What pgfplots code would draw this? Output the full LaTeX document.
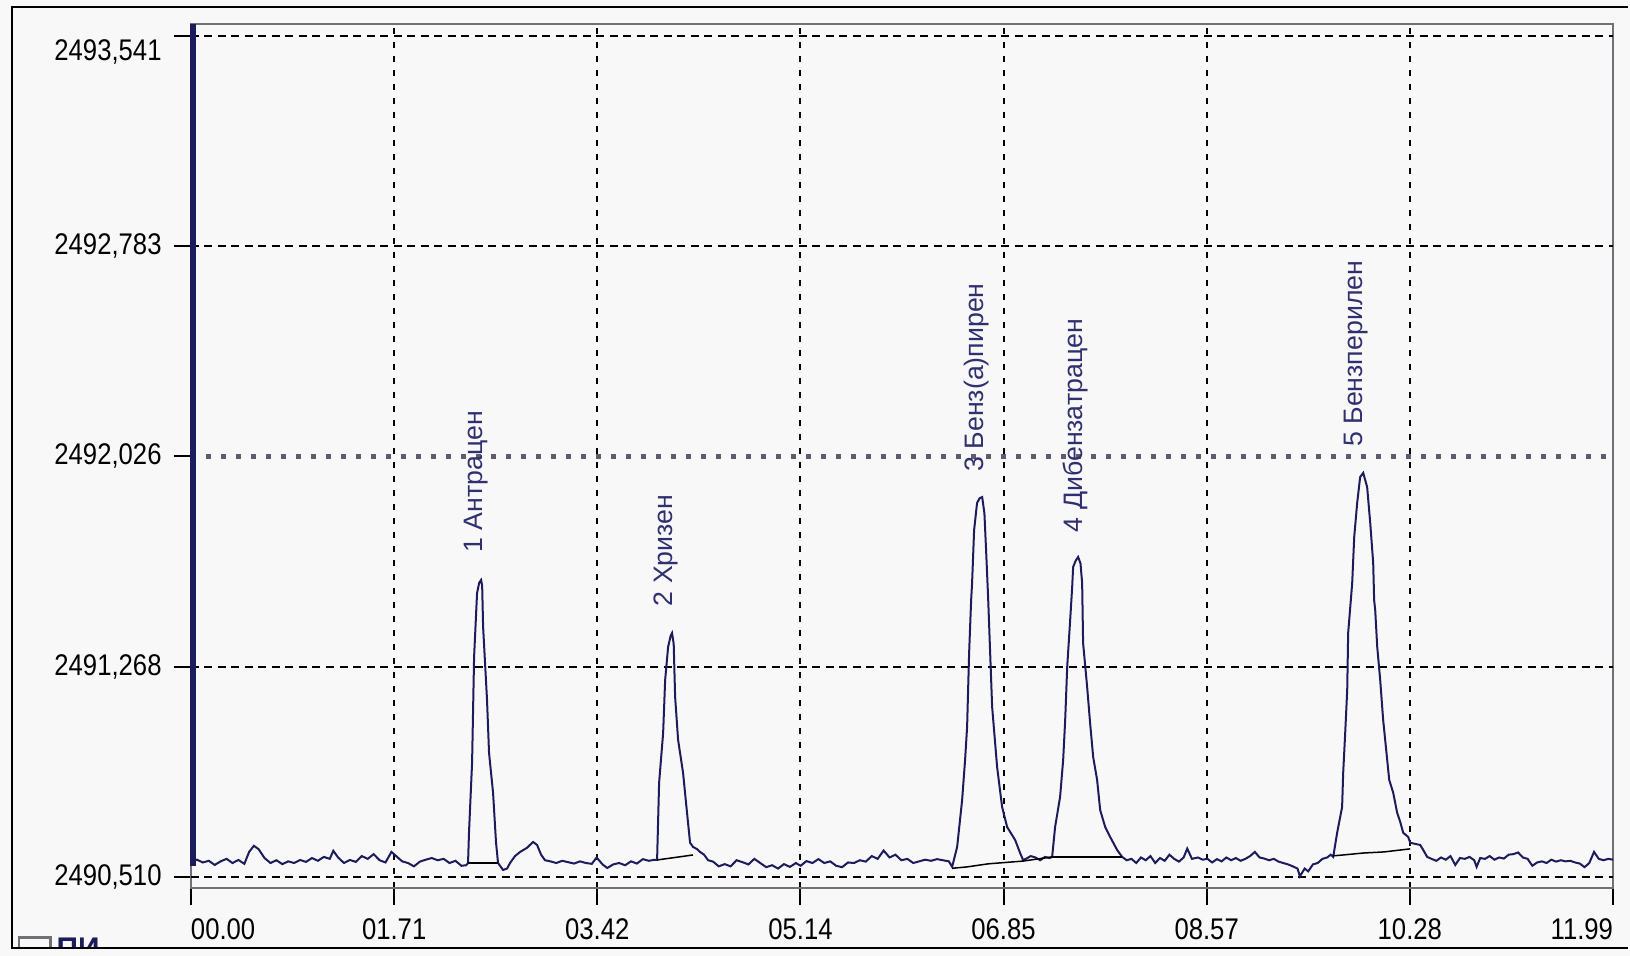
\documentclass[border=0pt]{standalone}
\usepackage{fontspec}
\setmainfont{Liberation Sans}
\newfontfamily\tickfont{Liberation Sans}[FakeStretch=0.86]
\newfontfamily\lblfont{Liberation Sans}
\usepackage{pgfplots}
\usepackage{pgfplotstable}
\pgfplotsset{compat=1.18}
\definecolor{bgc}{RGB}{248,248,248}
\definecolor{sig}{RGB}{28,28,92}
\definecolor{lbl}{RGB}{48,48,112}
\definecolor{frm}{RGB}{112,112,118}
\definecolor{gdot}{RGB}{92,92,108}

\pgfplotstableread{
t v
0.000 2490.566
0.050 2490.572
0.100 2490.562
0.150 2490.568
0.200 2490.553
0.250 2490.566
0.300 2490.575
0.350 2490.560
0.400 2490.571
0.450 2490.557
0.490 2490.600
0.530 2490.622
0.570 2490.610
0.620 2490.578
0.670 2490.560
0.720 2490.570
0.770 2490.556
0.820 2490.566
0.870 2490.560
0.920 2490.571
0.970 2490.564
1.020 2490.578
1.070 2490.568
1.120 2490.582
1.170 2490.575
1.200 2490.604
1.240 2490.580
1.290 2490.560
1.340 2490.571
1.390 2490.564
1.440 2490.585
1.490 2490.575
1.540 2490.592
1.590 2490.570
1.640 2490.562
1.690 2490.600
1.730 2490.585
1.780 2490.566
1.830 2490.560
1.880 2490.548
1.930 2490.565
1.980 2490.572
2.030 2490.578
2.080 2490.570
2.130 2490.575
2.180 2490.560
2.230 2490.568
2.280 2490.550
2.320 2490.552
2.336 2490.560
2.344 2490.669
2.370 2490.921
2.387 2491.303
2.412 2491.533
2.430 2491.570
2.446 2491.580
2.455 2491.560
2.463 2491.411
2.496 2491.148
2.513 2490.957
2.547 2490.813
2.572 2490.633
2.589 2490.560
2.631 2490.535
2.665 2490.540
2.690 2490.560
2.732 2490.585
2.775 2490.600
2.834 2490.615
2.884 2490.636
2.918 2490.625
2.952 2490.590
2.985 2490.570
3.030 2490.566
3.080 2490.560
3.130 2490.568
3.180 2490.563
3.230 2490.558
3.280 2490.566
3.330 2490.560
3.380 2490.557
3.420 2490.580
3.470 2490.555
3.510 2490.542
3.560 2490.555
3.610 2490.560
3.660 2490.552
3.710 2490.566
3.760 2490.558
3.810 2490.574
3.860 2490.568
3.900 2490.571
3.930 2490.571
3.947 2490.849
3.981 2491.029
3.998 2491.220
4.023 2491.339
4.045 2491.380
4.056 2491.389
4.070 2491.350
4.082 2491.159
4.107 2491.004
4.149 2490.885
4.174 2490.777
4.208 2490.633
4.233 2490.618
4.267 2490.610
4.292 2490.600
4.326 2490.590
4.360 2490.570
4.402 2490.565
4.450 2490.548
4.500 2490.556
4.550 2490.548
4.600 2490.570
4.650 2490.563
4.700 2490.555
4.750 2490.575
4.800 2490.560
4.850 2490.545
4.900 2490.552
4.950 2490.540
5.000 2490.556
5.050 2490.546
5.100 2490.560
5.140 2490.550
5.190 2490.567
5.240 2490.560
5.290 2490.574
5.340 2490.560
5.390 2490.566
5.440 2490.550
5.490 2490.545
5.540 2490.562
5.590 2490.560
5.640 2490.570
5.690 2490.565
5.740 2490.585
5.790 2490.575
5.840 2490.605
5.890 2490.580
5.940 2490.590
5.990 2490.570
6.040 2490.575
6.090 2490.560
6.140 2490.566
6.190 2490.572
6.240 2490.568
6.290 2490.574
6.340 2490.570
6.390 2490.566
6.418 2490.546
6.460 2490.618
6.502 2490.787
6.527 2490.932
6.544 2491.051
6.561 2491.317
6.578 2491.508
6.586 2491.569
6.603 2491.760
6.628 2491.858
6.650 2491.875
6.671 2491.879
6.690 2491.820
6.704 2491.688
6.721 2491.519
6.755 2491.123
6.797 2490.906
6.839 2490.762
6.881 2490.690
6.949 2490.643
6.991 2490.596
7.016 2490.571
7.040 2490.575
7.080 2490.585
7.120 2490.580
7.160 2490.570
7.200 2490.582
7.240 2490.578
7.261 2490.582
7.286 2490.690
7.328 2490.798
7.354 2490.932
7.371 2491.076
7.388 2491.267
7.413 2491.436
7.430 2491.555
7.438 2491.627
7.460 2491.650
7.480 2491.663
7.500 2491.640
7.514 2491.569
7.522 2491.353
7.556 2491.195
7.581 2491.065
7.607 2490.942
7.640 2490.860
7.666 2490.751
7.708 2490.690
7.750 2490.654
7.809 2490.607
7.851 2490.582
7.890 2490.570
7.930 2490.575
7.970 2490.560
8.010 2490.580
8.050 2490.570
8.090 2490.585
8.130 2490.560
8.170 2490.578
8.210 2490.568
8.250 2490.590
8.290 2490.575
8.330 2490.565
8.370 2490.580
8.400 2490.612
8.440 2490.575
8.490 2490.580
8.530 2490.572
8.570 2490.575
8.610 2490.562
8.650 2490.574
8.690 2490.566
8.730 2490.580
8.770 2490.570
8.810 2490.578
8.850 2490.568
8.890 2490.575
8.930 2490.585
8.970 2490.600
9.010 2490.580
9.050 2490.576
9.090 2490.570
9.130 2490.575
9.170 2490.565
9.210 2490.560
9.250 2490.555
9.290 2490.548
9.330 2490.540
9.350 2490.512
9.390 2490.540
9.420 2490.530
9.460 2490.555
9.500 2490.560
9.540 2490.575
9.580 2490.580
9.610 2490.590
9.631 2490.582
9.664 2490.669
9.706 2490.762
9.715 2490.885
9.732 2491.029
9.749 2491.184
9.757 2491.389
9.791 2491.569
9.808 2491.735
9.833 2491.858
9.858 2491.951
9.884 2491.966
9.917 2491.915
9.943 2491.786
9.968 2491.642
9.976 2491.508
9.985 2491.472
10.002 2491.339
10.027 2491.220
10.052 2491.076
10.086 2490.932
10.103 2490.860
10.137 2490.813
10.170 2490.741
10.196 2490.708
10.221 2490.669
10.263 2490.654
10.280 2490.633
10.364 2490.625
10.390 2490.607
10.423 2490.582
10.460 2490.575
10.500 2490.568
10.540 2490.580
10.580 2490.572
10.620 2490.585
10.660 2490.553
10.700 2490.578
10.740 2490.575
10.780 2490.582
10.820 2490.570
10.840 2490.546
10.870 2490.578
10.910 2490.575
10.950 2490.585
10.990 2490.572
11.030 2490.580
11.070 2490.576
11.110 2490.590
11.150 2490.592
11.190 2490.598
11.230 2490.580
11.270 2490.575
11.310 2490.550
11.350 2490.562
11.390 2490.566
11.430 2490.560
11.470 2490.572
11.510 2490.565
11.550 2490.570
11.590 2490.566
11.630 2490.568
11.670 2490.562
11.710 2490.558
11.750 2490.545
11.790 2490.560
11.830 2490.600
11.870 2490.575
11.910 2490.570
11.950 2490.575
11.990 2490.572
}\signal

\begin{document}
\begin{tikzpicture}
\fill[bgc] (0mm,0mm) rectangle (163mm,95.6mm);
\useasboundingbox (0mm,0mm) rectangle (163mm,95.6mm);
\draw[black, line width=0.2mm] (162.8mm,94.9mm) -- (1.2mm,94.9mm) -- (1.2mm,0.8mm) -- (162.8mm,0.8mm);
\begin{scope}
\clip (1.3mm,0.9mm) rectangle (20mm,2.0mm);
\draw[frm, line width=0.3mm] (1.9mm,0.2mm) rectangle (5mm,1.85mm);
\node[anchor=base west, inner sep=0pt, text=sig, font=\bfseries\fontsize{8.5}{10}\selectfont] at (5.6mm,-0.3mm) {ПИ};
\end{scope}
\begin{axis}[
  at={(19.1mm,6.8mm)}, anchor=south west,
  scale only axis, width=142.2mm, height=86.4mm,
  xmin=0, xmax=11.99, ymin=2490.470, ymax=2493.584,
  axis line style={frm, line width=0.2mm},
  xtick={0,1.713,3.426,5.139,6.851,8.564,10.277,11.99},
  xticklabels={\makebox[0pt][l]{00.00},01.71,03.42,05.14,06.85,08.57,10.28,\makebox[0pt][r]{11.99}},
  ytick={2490.510,2491.268,2492.026,2492.783,2493.541},
  yticklabels={{2490,510},{2491,268},{2492,026},{2492,783},{\raisebox{-2.5mm}[0pt][0pt]{2493,541}}},
  minor x tick num=5, minor y tick num=5,
  tick align=outside, xtick pos=bottom, ytick pos=left,
  major tick length=1.7mm, minor tick length=1mm,
  tick style={black, line width=0.2mm},
  xmajorgrids=true,
  major grid style={black, line width=0.2mm, dash pattern=on 0.6mm off 0.8mm},
  ticklabel style={font=\tickfont\fontsize{8.5}{10}\selectfont, text=black},
  xticklabel style={yshift=-0.1mm},
  clip=false,
]
\draw[black, line width=0.2mm, dash pattern=on 0.8mm off 0.55mm] (axis cs:0,2490.510) -- (axis cs:11.99,2490.510);
\draw[black, line width=0.2mm, dash pattern=on 0.8mm off 0.55mm] (axis cs:0,2491.268) -- (axis cs:11.99,2491.268);
\draw[gdot, line width=0.5mm, dash pattern=on 0.5mm off 1mm] (axis cs:0,2492.026) -- (axis cs:11.99,2492.026);
\draw[black, line width=0.2mm, dash pattern=on 0.8mm off 0.55mm] (axis cs:0,2492.783) -- (axis cs:11.99,2492.783);
\draw[black, line width=0.2mm, dash pattern=on 0.8mm off 0.55mm] (axis cs:0,2493.541) -- (axis cs:11.99,2493.541);

\addplot[sig, line width=0.2mm] table[x=t, y=v] {\signal};
\addplot[black, line width=0.15mm] coordinates {(2.336,2490.560) (2.589,2490.560)};
\addplot[black, line width=0.15mm] coordinates {(3.930,2490.571) (4.233,2490.589)};
\addplot[black, line width=0.15mm] coordinates {(6.418,2490.541) (6.544,2490.546) (6.721,2490.557) (7.016,2490.567) (7.261,2490.582)};
\addplot[black, line width=0.15mm] coordinates {(7.261,2490.582) (7.851,2490.582)};
\addplot[black, line width=0.15mm] coordinates {(9.631,2490.586) (9.715,2490.589) (9.884,2490.596) (10.060,2490.600) (10.280,2490.611)};

\draw[sig, line width=0.55mm, xshift=0.2mm] (axis cs:0,2493.584) -- (axis cs:0,2490.548);

\node[rotate=90, anchor=base west, inner sep=0pt, text=lbl, font=\lblfont\fontsize{7.6}{9}\selectfont] at (axis cs:2.462,2491.677) {1 Антрацен};
\node[rotate=90, anchor=base west, inner sep=0pt, text=lbl, font=\lblfont\fontsize{7.6}{9}\selectfont] at (axis cs:4.056,2491.483) {2 Хризен};
\node[rotate=90, anchor=base west, inner sep=0pt, text=lbl, font=\lblfont\fontsize{7.6}{9}\selectfont] at (axis cs:6.680,2491.969) {3 Бенз(а)пирен};
\node[rotate=90, anchor=base west, inner sep=0pt, text=lbl, font=\lblfont\fontsize{7.6}{9}\selectfont] at (axis cs:7.514,2491.750) {4 Дибензатрацен};
\node[rotate=90, anchor=base west, inner sep=0pt, text=lbl, font=\lblfont\fontsize{7.6}{9}\selectfont] at (axis cs:9.876,2492.058) {5 Бензперилен};
\end{axis}
\end{tikzpicture}
\end{document}
